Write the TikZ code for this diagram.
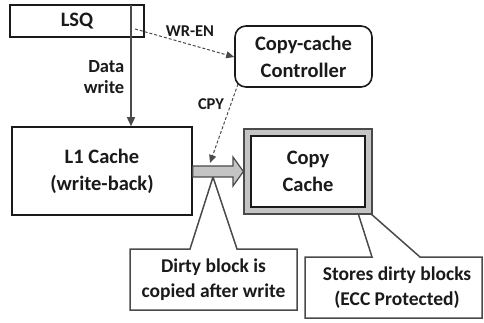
\documentclass[tikz,border=0pt]{standalone}
\usepackage{fontspec}
\setmainfont{Carlito}
\usetikzlibrary{arrows.meta}
\definecolor{ink}{HTML}{1A1A1A}
\definecolor{lgray}{HTML}{C4C4C4}
\definecolor{dgray}{HTML}{4A4A4A}
\tikzset{
  box/.style={draw=ink, line width=1.6pt, fill=white, inner sep=0pt, align=center, text=ink,
              font=\fontsize{20.5}{27}\selectfont\bfseries},
  lbl/.style={text=ink, inner sep=0pt, font=\fontsize{16.5}{18}\selectfont\bfseries},
  dasharrow/.style={draw=dgray, line width=1pt, dash pattern=on 3pt off 2pt, -{Triangle[length=8pt,width=7pt]}},
  callout/.style={draw=dgray, line width=1.5pt, fill=white},
  calltext/.style={text=ink, align=center, inner sep=0pt, font=\fontsize{19.5}{25}\selectfont\bfseries},
}
\begin{document}
\begin{tikzpicture}[x=1pt,y=-1pt]
\useasboundingbox (0,0) rectangle (484,323);

% callouts (drawn first)
\draw[callout] (130,249) -- (190,249) -- (213,177) -- (237,249) -- (297,249) -- (297,310) -- (130,310) -- cycle;
\node[calltext] (dirty) at (213.5,279.5) {Dirty block is\\copied after write};
\draw[callout] (305,257) -- (372,257) -- (358,213) -- (370,213) -- (420,257) -- (482,257) -- (482,318) -- (305,318) -- cycle;
\node[calltext] (stores) at (397,288) {Stores dirty blocks\\(ECC Protected)};

% boxes
\node[box, minimum width=134pt, minimum height=32pt] (lsq) at (77,21) {LSQ};
\node[box, minimum width=180pt, minimum height=88pt] (l1) at (102,171) {L1 Cache\\(write-back)};
\node[box, rounded corners=11pt, minimum width=137pt, minimum height=61pt] (ctrl) at (303.5,56.5) {Copy-cache\\Controller};
\node[draw=dgray, line width=1.2pt, fill=lgray, minimum width=128pt, minimum height=85pt, inner sep=0pt] (ccouter) at (308,171.5) {};
\node[box, minimum width=114pt, minimum height=71pt] (cc) at (308,171.5) {Copy\\Cache};

% data write arrow
\coordinate (tap) at (131,5);
\draw[draw=dgray, line width=1.6pt, -{Triangle[length=9pt,width=8pt]}] (tap) -- (tap |- l1.north);
\node[lbl, anchor=east, align=right, font=\fontsize{18.5}{21}\selectfont\bfseries] (dw) at (124.5,77.5) {Data\\write};

% gray block arrow
\draw[draw=dgray, line width=1.2pt, fill=lgray, line join=miter]
  (l1.east |- 0,166) -- (233,166) -- (233,157) -- (ccouter.west |- 0,171.5) -- (233,186) -- (233,177) -- (l1.east |- 0,177) -- cycle;

% dashed control arrows
\coordinate (wrs) at (135,29);
\draw[dasharrow] (wrs) -- (ctrl.west |- 0,57);
\node[lbl] (wren) at (190,31) {WR-EN};
\coordinate (cpys) at (238,84);
\coordinate (cpye) at (210,163);
\draw[dasharrow] (cpys) -- (cpye);
\node[lbl] (cpy) at (211,104) {CPY};
\end{tikzpicture}
\end{document}
